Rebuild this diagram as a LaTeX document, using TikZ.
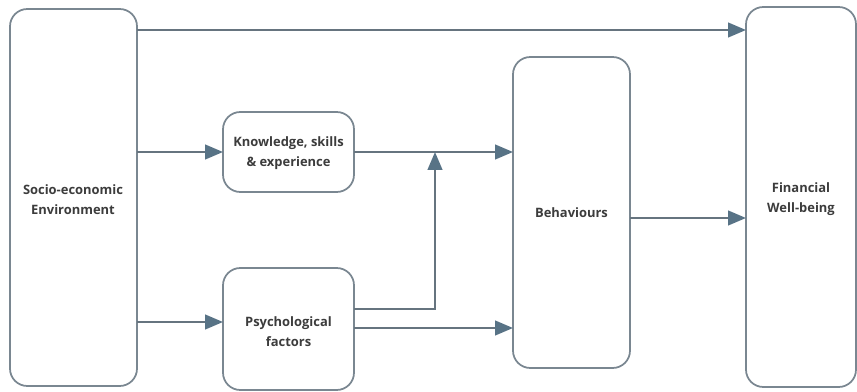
\documentclass[tikz,border=0pt]{standalone}
\usepackage{fontspec}
\setmainfont{Open Sans}
\usetikzlibrary{arrows.meta}
\definecolor{boxline}{HTML}{7A8791}
\definecolor{linkline}{HTML}{66747F}
\definecolor{tipfill}{HTML}{587386}
\definecolor{labeltext}{HTML}{3C3C3C}
\begin{document}
\begin{tikzpicture}[x=0.75pt,y=-0.75pt,
  block/.style={draw=boxline,line width=1.3pt,fill=white,rounded corners=13pt},
  label/.style={align=center,font=\bfseries\fontsize{9.7}{15}\selectfont,text=labeltext},
  link/.style={draw=linkline,line width=1.7pt,
    -{Triangle[length=13.5pt,width=11pt,fill=tipfill,color=tipfill]}}]
\useasboundingbox (0,0) rectangle (857,392);
\fill[white] (0,0) rectangle (857,392);

% boxes
\draw[block] (10,9) rectangle (137,386);
\draw[block] (223,112) rectangle (354,192);
\draw[block] (223,268) rectangle (354,390);
\draw[block] (513,57) rectangle (630,368);
\draw[block] (746,7) rectangle (856,387);

% labels
\node[label] (socio) at (73,200) {Socio-economic\\Environment};
\node[label] (know) at (288.5,153) {Knowledge, skills\\\& experience};
\node[label] (psych) at (288.5,332) {Psychological\\factors};
\node[label] (behav) at (571.5,213) {Behaviours};
\node[label] (fwb) at (801,199) {Financial\\Well-being};

% connector ends on the box borders
\coordinate (sR30)  at (137,30);
\coordinate (sR152) at (137,152);
\coordinate (sR322) at (137,322);
\coordinate (kL)    at (223,152);
\coordinate (kR)    at (354,152);
\coordinate (pL)    at (223,322);
\coordinate (pR309) at (354,309);
\coordinate (pR328) at (354,328);
\coordinate (join)  at (435,152);
\coordinate (bL152) at (513,152);
\coordinate (bL328) at (513,328);
\coordinate (bR)    at (630,218);
\coordinate (fL30)  at (746,30);
\coordinate (fL218) at (746,218);

% connectors
\draw[link] (sR30) -- (fL30);
\draw[link] (sR152) -- (kL);
\draw[link] (sR322) -- (pL);
\draw[link] (kR) -- (bL152);
\draw[link] (pR309) -- (pR309 -| join) -- (join);
\draw[link] (pR328) -- (bL328);
\draw[link] (bR) -- (fL218);
\end{tikzpicture}
\end{document}
